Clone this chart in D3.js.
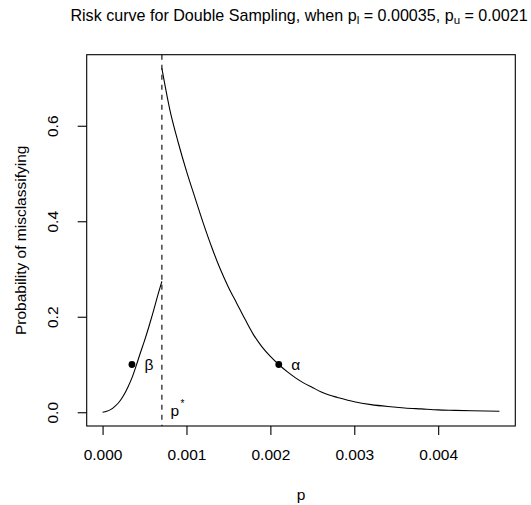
<!DOCTYPE html>
<html>
<head>
<meta charset="utf-8">
<script src="https://cdn.jsdelivr.net/npm/d3@7"></script>
<style>
  html, body { margin: 0; padding: 0; background: #fff; }
  svg { display: block; font-family: "Liberation Sans", Arial, sans-serif; }
</style>
</head>
<body>
<svg id="chart" width="531" height="505"></svg>
<script>
// ---- data ----
const pStar = 0.000707;
const pLower = 0.00035;
const pUpper = 0.0021;

const leftP    = [0, 0.00005, 0.0001, 0.00015, 0.0002, 0.00025, 0.0003, 0.00035, 0.0004, 0.00045, 0.0005, 0.00055, 0.0006, 0.00065, 0.000707];
const leftRisk = [0, 0.002, 0.006, 0.013, 0.022, 0.035, 0.052, 0.072, 0.097, 0.124, 0.150, 0.178, 0.208, 0.240, 0.274];

const rightP    = [0.000707, 0.0008, 0.0009, 0.001, 0.0011, 0.0012, 0.0013, 0.0014, 0.0015, 0.0016, 0.0017, 0.0018, 0.0019, 0.002, 0.0021, 0.0022, 0.0023, 0.0024, 0.0025, 0.0026, 0.0027, 0.0028, 0.003, 0.0032, 0.0034, 0.0036, 0.0038, 0.004, 0.0042, 0.0044, 0.00473];
const rightRisk = [0.72, 0.635, 0.566, 0.505, 0.45, 0.396, 0.346, 0.301, 0.262, 0.228, 0.194, 0.162, 0.137, 0.117, 0.100, 0.085, 0.072, 0.061, 0.052, 0.043, 0.036, 0.031, 0.022, 0.016, 0.012, 0.009, 0.007, 0.005, 0.004, 0.003, 0.002];

const pointP     = [pLower, pUpper];
const pointRisk  = [0.1, 0.1];
const pointLabel = ["β", "α"];

const xTicks = [0, 0.001, 0.002, 0.003, 0.004];
const yTicks = [0, 0.2, 0.4, 0.6];

// ---- layout ----
const svg = d3.select("#chart");
const box = { left: 86.7, right: 515.3, top: 54.7, bottom: 426 };

const xMin = 0, xMax = d3.max(rightP);
const yMin = 0, yMax = d3.max(rightRisk);
const xPad = 0.04 * (xMax - xMin), yPad = 0.04 * (yMax - yMin);

const x = d3.scaleLinear().domain([xMin - xPad, xMax + xPad]).range([box.left, box.right]);
const y = d3.scaleLinear().domain([yMin - yPad, yMax + yPad]).range([box.bottom, box.top]);

const axisFont = 15.5;

// plot box
svg.append("rect")
  .attr("x", box.left).attr("y", box.top)
  .attr("width", box.right - box.left).attr("height", box.bottom - box.top)
  .attr("fill", "none").attr("stroke", "#000").attr("stroke-width", 1.1);

// x axis
const gx = svg.append("g").attr("transform", `translate(0,${box.bottom})`)
  .call(d3.axisBottom(x).tickValues(xTicks).tickSize(9).tickPadding(14).tickFormat(d3.format(".3f")));
gx.select(".domain").remove();
gx.selectAll("line").attr("stroke", "#000").attr("stroke-width", 1.1);
gx.selectAll("text").attr("font-size", axisFont).attr("fill", "#000")
  .attr("font-family", "Liberation Sans, Arial, sans-serif")
  .attr("dy", null).attr("y", 34);

// y axis
const gy = svg.append("g").attr("transform", `translate(${box.left},0)`)
  .call(d3.axisLeft(y).tickValues(yTicks).tickSize(9).tickFormat(d3.format(".1f")));
gy.select(".domain").remove();
gy.selectAll("line").attr("stroke", "#000").attr("stroke-width", 1.1);
gy.selectAll("text")
  .attr("font-size", axisFont).attr("fill", "#000")
  .attr("font-family", "Liberation Sans, Arial, sans-serif")
  .attr("x", null).attr("dy", null)
  .attr("text-anchor", "middle")
  .attr("transform", "translate(-29,0) rotate(-90)");

// axis titles
svg.append("text")
  .attr("x", (box.left + box.right) / 2).attr("y", 499.5)
  .attr("text-anchor", "middle").attr("font-size", axisFont).text("p");

svg.append("text")
  .attr("transform", `translate(26,${(box.top + box.bottom) / 2}) rotate(-90)`)
  .attr("text-anchor", "middle").attr("font-size", axisFont)
  .text("Probability of misclassifying");

// title
const title = svg.append("text")
  .attr("x", 299).attr("y", 20.5)
  .attr("text-anchor", "middle").attr("font-size", 16.1);
title.append("tspan").text("Risk curve for Double Sampling, when p");
title.append("tspan").attr("font-size", 11.5).attr("dy", 3.5).text("l");
title.append("tspan").attr("dy", -3.5).text(" = 0.00035, p");
title.append("tspan").attr("font-size", 11.5).attr("dy", 3.5).text("u");
title.append("tspan").attr("dy", -3.5).text(" = 0.0021");

// clip to plot box
svg.append("clipPath").attr("id", "clip").append("rect")
  .attr("x", box.left).attr("y", box.top)
  .attr("width", box.right - box.left).attr("height", box.bottom - box.top);

const plot = svg.append("g").attr("clip-path", "url(#clip)");

// dashed vertical line at p*
plot.append("line")
  .attr("x1", x(pStar)).attr("x2", x(pStar))
  .attr("y1", box.top).attr("y2", box.bottom)
  .attr("stroke", "#000").attr("stroke-width", 1.1)
  .attr("stroke-dasharray", "5,5");

const line = d3.line().x(d => x(d[0])).y(d => y(d[1])).curve(d3.curveMonotoneX);

plot.append("path")
  .datum(leftP.map((p, i) => [p, leftRisk[i]]))
  .attr("d", line).attr("fill", "none").attr("stroke", "#000").attr("stroke-width", 1.1);

plot.append("path")
  .datum(rightP.map((p, i) => [p, rightRisk[i]]))
  .attr("d", line).attr("fill", "none").attr("stroke", "#000").attr("stroke-width", 1.1);

// points and labels
pointP.forEach((p, i) => {
  svg.append("circle").attr("cx", x(p)).attr("cy", y(pointRisk[i])).attr("r", 3.4).attr("fill", "#000");
  svg.append("text")
    .attr("x", x(p) + 12.5).attr("y", y(pointRisk[i]))
    .attr("dy", "0.35em").attr("font-size", axisFont)
    .text(pointLabel[i]);
});

// p* label
const ps = svg.append("text")
  .attr("x", x(pStar) + 8.5).attr("y", 416)
  .attr("font-size", axisFont);
ps.append("tspan").text("p");
ps.append("tspan").attr("font-size", 10).attr("dy", -9).attr("dx", 1.5).text("*");
</script>
</body>
</html>
